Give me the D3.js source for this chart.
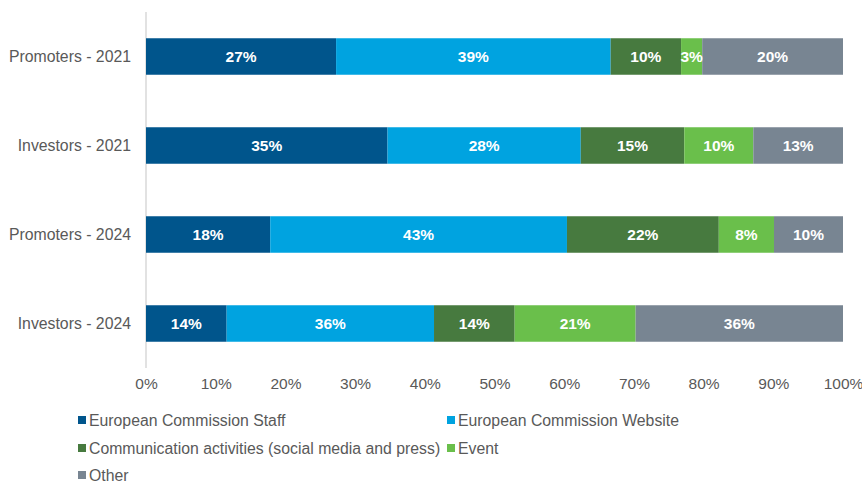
<!DOCTYPE html>
<html>
<head>
<meta charset="utf-8">
<script src="https://cdn.jsdelivr.net/npm/d3@7"></script>
<style>
  html, body { margin: 0; padding: 0; background: #fff; }
  svg { display: block; font-family: "Liberation Sans", Arial, sans-serif; }
</style>
</head>
<body>
<svg id="chart" width="862" height="483"></svg>
<script>
// Share of respondents by information source (label values in %)
const categories = ["Promoters - 2021", "Investors - 2021", "Promoters - 2024", "Investors - 2024"];
const seriesNames = [
  "European Commission Staff",
  "European Commission Website",
  "Communication activities (social media and press)",
  "Event",
  "Other"
];
const staff   = [27, 35, 18, 14];
const website = [39, 28, 43, 36];
const comms   = [10, 15, 22, 14];
const events  = [3, 10, 8, 21];
const other   = [20, 13, 10, 36];
const tickLabels = ["0%", "10%", "20%", "30%", "40%", "50%", "60%", "70%", "80%", "90%", "100%"];

const colors = ["#00558c", "#00a3e0", "#477a3f", "#6abf4b", "#788592"];
const seriesValues = [staff, website, comms, events, other];

// Each row is drawn as a 100% stacked bar: values normalised by their row total
const rows = categories.map((c, i) => {
  const vals = seriesValues.map(s => s[i]);
  const total = d3.sum(vals);
  let acc = 0;
  return {
    category: c,
    segs: vals.map((v, k) => {
      const s = { key: k, value: v, x0: acc / total, x1: (acc + v) / total };
      acc += v;
      return s;
    })
  };
});

const svg = d3.select("#chart");
const x = d3.scaleLinear().domain([0, 1]).range([146, 843]);
const y = d3.scaleBand().domain(categories).range([12, 368]).paddingInner(0.59).paddingOuter(0.295);

// vertical category axis line
svg.append("line")
  .attr("x1", x(0)).attr("x2", x(0))
  .attr("y1", 12).attr("y2", 368)
  .attr("stroke", "#d9d9d9").attr("stroke-width", 1.5);

// bars
const g = svg.append("g");
const rowG = g.selectAll("g.row").data(rows).join("g")
  .attr("class", "row")
  .attr("transform", d => `translate(0,${y(d.category)})`);

rowG.selectAll("rect").data(d => d.segs).join("rect")
  .attr("x", d => x(d.x0))
  .attr("width", d => x(d.x1) - x(d.x0))
  .attr("y", 0)
  .attr("height", y.bandwidth())
  .attr("fill", d => colors[d.key]);

rowG.selectAll("text").data(d => d.segs).join("text")
  .attr("x", d => (x(d.x0) + x(d.x1)) / 2)
  .attr("y", y.bandwidth() / 2)
  .attr("dy", "0.36em")
  .attr("text-anchor", "middle")
  .attr("fill", "#fff")
  .attr("font-weight", "bold")
  .attr("font-size", "15.5px")
  .text(d => d.value + "%");

// category labels
svg.append("g").selectAll("text").data(categories).join("text")
  .attr("x", 131)
  .attr("y", d => y(d) + y.bandwidth() / 2)
  .attr("dy", "0.36em")
  .attr("text-anchor", "end")
  .attr("fill", "#595959")
  .attr("font-size", "15.8px")
  .text(d => d);

// x axis tick labels
const xAxis = d3.axisBottom(x)
  .tickValues(d3.range(0, 11).map(i => i / 10))
  .tickFormat((d, i) => tickLabels[i])
  .tickSize(0)
  .tickPadding(0);
const ax = svg.append("g").attr("transform", "translate(0,378)").call(xAxis);
ax.select(".domain").remove();
ax.selectAll("text")
  .attr("fill", "#595959")
  .attr("font-size", "15.5px")
  .attr("font-family", "Liberation Sans, Arial, sans-serif");

// legend
const legendPos = [
  { x: 78, y: 420 }, { x: 447, y: 420 },
  { x: 78, y: 448 }, { x: 447, y: 448 },
  { x: 78, y: 475 }
];
const lg = svg.append("g").selectAll("g").data(seriesNames).join("g")
  .attr("transform", (d, i) => `translate(${legendPos[i].x},${legendPos[i].y})`);
lg.append("rect")
  .attr("x", 0).attr("y", -4)
  .attr("width", 8).attr("height", 8)
  .attr("fill", (d, i) => colors[i]);
lg.append("text")
  .attr("x", 11).attr("y", 0)
  .attr("dy", "0.36em")
  .attr("fill", "#595959")
  .attr("font-size", "15.8px")
  .text(d => d);

// place "Event" entry just after the long communication label
const commText = lg.filter((d, i) => i === 2).select("text").node();
const commEnd = 78 + 11 + commText.getComputedTextLength();
lg.filter((d, i) => i === 3).attr("transform", `translate(${Math.max(commEnd + 6, 447)},448)`);
</script>
</body>
</html>
